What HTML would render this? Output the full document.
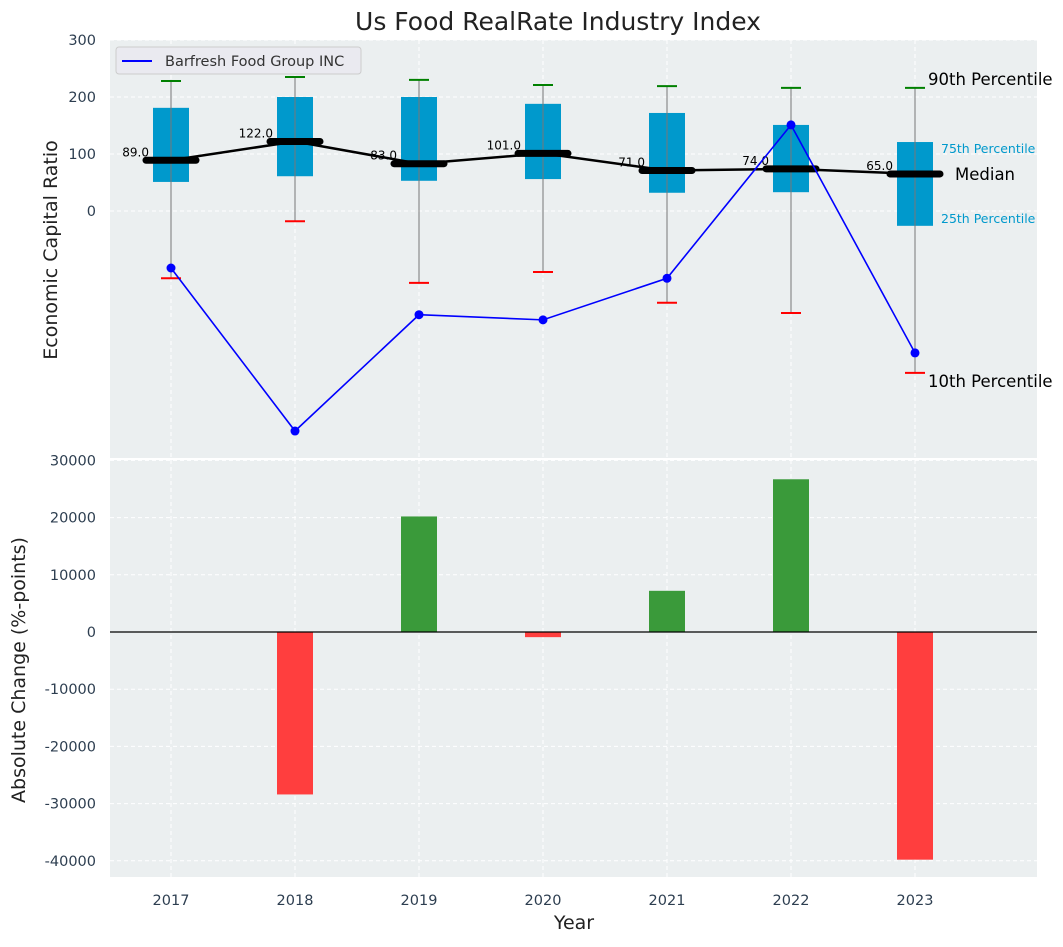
<!DOCTYPE html>
<html><head><meta charset="utf-8"><style>
body{margin:0;background:#fff;font-family:"Liberation Sans","DejaVu Sans",sans-serif}
svg text{font-family:"DejaVu Sans","Liberation Sans",sans-serif}
</style></head><body>
<svg id="c" width="1063" height="942" xmlns="http://www.w3.org/2000/svg"></svg>
<script>
const years=['2017','2018','2019','2020','2021','2022','2023'];
const medians=[89,122,83,101,71,74,65];
const q1=[51,61,53,56,32,33,-26];
const q3=[181,200,200,188,172,151,121];
const p10=[-118,-18,-126,-107,-161,-179,-284];
const p90=[228,235,230,221,219,216,216];
const company=[-100,-386,-182,-191,-118,151,-249];
const changes=[0,-28400,20200,-900,7200,26700,-39800];
const topTicks=[0,100,200,300];
const botTicks=[-40000,-30000,-20000,-10000,0,10000,20000,30000];
const S=document.getElementById('c');const NS='http://www.w3.org/2000/svg';
function el(t,a,txt){const e=document.createElementNS(NS,t);for(const k in a)e.setAttribute(k,a[k]);if(txt!==undefined)e.textContent=txt;S.appendChild(e);return e;}
const X0=110,X1=1037;
const xs=i=>171+i*124;
const yT=v=>211-v*0.57;
const yB=v=>632-v*0.00572;
let e;
e=el('text',{x:558,y:30,'font-size':25,'text-anchor':'middle',fill:'#222'},'Us Food RealRate Industry Index');

e=el('rect',{x:X0,y:40,width:X1-X0,height:418,fill:'#ebeff0'});

e=el('rect',{x:X0,y:460,width:X1-X0,height:417,fill:'#ebeff0'});

years.forEach((y,i)=>{
 el('line',{x1:xs(i),x2:xs(i),y1:40,y2:458,stroke:'#fff','stroke-dasharray':'4,3'});
 el('line',{x1:xs(i),x2:xs(i),y1:460,y2:877,stroke:'#fff','stroke-dasharray':'4,3'});
 e=el('text',{x:xs(i),y:905,'font-size':14.5,'text-anchor':'middle',fill:'#2d3e50'},y);
 
});
topTicks.forEach(v=>{
 el('line',{x1:X0,x2:X1,y1:yT(v),y2:yT(v),stroke:'#fff','stroke-dasharray':'4,3'});
 e=el('text',{x:96,y:yT(v)+5,'font-size':14.5,'text-anchor':'end',fill:'#2d3e50'},v);
 
});
botTicks.forEach(v=>{
 el('line',{x1:X0,x2:X1,y1:yB(v),y2:yB(v),stroke:'#fff','stroke-dasharray':'4,3'});
 e=el('text',{x:96,y:yB(v)+5,'font-size':14.5,'text-anchor':'end',fill:'#2d3e50'},v);
 
});
years.forEach((y,i)=>{
 const x=xs(i);
 e=el('rect',{x:x-18,y:yT(q3[i]),width:36,height:yT(q1[i])-yT(q3[i]),fill:'#0099cc'});
 
 el('line',{x1:x,x2:x,y1:yT(p90[i]),y2:yT(p10[i]),stroke:'#777','stroke-width':1});
 e=el('line',{x1:x-10,x2:x+10,y1:yT(p90[i]),y2:yT(p90[i]),stroke:'green','stroke-width':2});
 
 e=el('line',{x1:x-10,x2:x+10,y1:yT(p10[i]),y2:yT(p10[i]),stroke:'red','stroke-width':2});
 
});
e=el('polyline',{points:medians.map((v,i)=>xs(i)+','+yT(v)).join(' '),fill:'none',stroke:'#000','stroke-width':2.5});

years.forEach((y,i)=>{
 const x=xs(i);
 e=el('line',{x1:x-25,x2:x+25,y1:yT(medians[i]),y2:yT(medians[i]),stroke:'#000','stroke-width':7,'stroke-linecap':'round'});
 
 e=el('text',{x:x-22,y:yT(medians[i])-4,'font-size':12,'text-anchor':'end',fill:'#000'},medians[i].toFixed(1));
 
});
e=el('polyline',{points:company.map((v,i)=>xs(i)+','+yT(v)).join(' '),fill:'none',stroke:'blue','stroke-width':1.6});

company.forEach((v,i)=>{e=el('circle',{cx:xs(i),cy:yT(v),r:4.5,fill:'blue'});
 });
const L=6,xl=xs(L);
[['90th Percentile',xl+13,yT(p90[L])-3,16.5,'#000'],['10th Percentile',xl+13,yT(p10[L])+14,16.5,'#000'],['Median',xl+40,yT(medians[L])+6,16.5,'#000'],['75th Percentile',xl+26,yT(q3[L])+11,12.5,'#0099cc'],['25th Percentile',xl+26,yT(q1[L])-3,12.5,'#0099cc']].forEach(a=>{
 e=el('text',{x:a[1],y:a[2],'font-size':a[3],fill:a[4]},a[0]);
 
});
e=el('rect',{x:116,y:47,width:245,height:27,rx:3,fill:'#eaeaf0',stroke:'#ccc'});

el('line',{x1:122,x2:152,y1:61,y2:61,stroke:'blue','stroke-width':2});
e=el('text',{x:165,y:66,'font-size':14.5,fill:'#333'},'Barfresh Food Group INC');

changes.forEach((v,i)=>{
 const y0=yB(0),y1=yB(v);
 e=el('rect',{x:xs(i)-18,y:Math.min(y0,y1),width:36,height:Math.abs(y1-y0),fill:v>=0?'#3a9a3a':'#ff3e3e'});
 
});
el('line',{x1:X0,x2:X1,y1:yB(0),y2:yB(0),stroke:'#000','stroke-width':1.2});
e=el('text',{x:0,y:0,'font-size':19,'text-anchor':'middle',fill:'#222',transform:'translate(57,250) rotate(-90)'},'Economic Capital Ratio');

e=el('text',{x:0,y:0,'font-size':19,'text-anchor':'middle',fill:'#222',transform:'translate(25,670) rotate(-90)'},'Absolute Change (%-points)');

e=el('text',{x:574,y:929,'font-size':19,'text-anchor':'middle',fill:'#222'},'Year');

</script></body></html>
